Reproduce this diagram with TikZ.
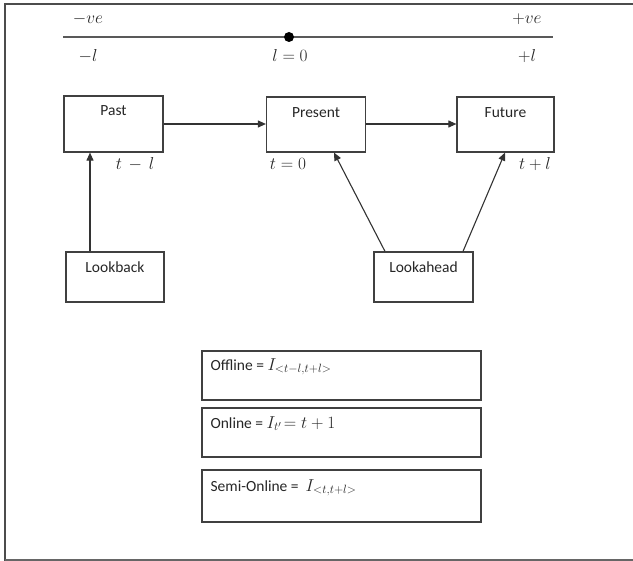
\documentclass[tikz,border=0pt]{standalone}
\usepackage{fontspec}
\setmainfont{Carlito}
\usetikzlibrary{arrows.meta}
\begin{document}
\begin{tikzpicture}[x=1pt,y=-1pt,
  box/.style={draw=black!75,line width=1.2pt,minimum width=#1,inner sep=0pt},
  box/.default=99pt,
  lbl/.style={anchor=north,inner sep=0pt,text=black!85,font=\fontsize{15.5}{18}\selectfont},
  mth/.style={inner sep=0pt,text=black!85,font=\fontsize{17.5}{20}\selectfont},
  conn/.style={draw=black!80,line width=1.1pt,-{Triangle[length=8pt,width=7pt]}},
  frame/.style={draw=black!70,line width=1.5pt}]
\useasboundingbox (0,0) rectangle (633,561);
% frame
\coordinate (f1) at (5,561);
\coordinate (f2) at (5,4);
\coordinate (f3) at (634,4);
\coordinate (f4) at (5,560);
\coordinate (f5) at (634,560);
\draw[frame] (f1) -- (f2) -- (f3);
\draw[frame,draw=black!60,line width=2pt] (f4) -- (f5);
% axis
\coordinate (aL) at (63,37);
\coordinate (aR) at (553,37);
\draw[draw=black!65,line width=1.1pt] (aL) -- (aR);
\node[circle,fill=black,inner sep=0pt,minimum size=10pt] (dot) at (289,37) {};
\node[mth] (mve) at (88,19) {$-ve$};
\node[mth] (pve) at (527,19) {$+ve$};
\node[mth] (ml) at (88,56) {$-l$};
\node[mth] (l0) at (290,56) {$l=0$};
\node[mth] (pl) at (527,56) {$+l$};
% boxes
\node[box,minimum height=56pt] (past) at (113.5,124) {};
\node[lbl] (pastT) at ([yshift=-10pt]past.north) {Past};
\node[box,minimum height=55pt] (present) at (316,124.5) {};
\node[lbl] (presentT) at ([yshift=-11pt]present.north) {Present};
\node[box,minimum width=97pt,minimum height=55pt] (future) at (505.5,124.5) {};
\node[lbl] (futureT) at ([yshift=-11pt]future.north) {Future};
\node[box,minimum width=98pt,minimum height=50pt] (lookback) at (115,277) {};
\node[lbl] (lookbackT) at ([yshift=-10pt]lookback.north) {Lookback};
\node[box,minimum width=99pt,minimum height=50pt] (lookahead) at (423.5,277) {};
\node[lbl] (lookaheadT) at ([yshift=-10pt]lookahead.north) {Lookahead};
% time labels
\node[mth] (tml) at (135,164) {$t\,-\,l$};
\node[mth] (t0) at (288,164) {$t=0$};
\node[mth] (tpl) at (535,164) {$t+l$};
% connectors
\draw[conn] (past.east |- 0,124) -- (present.west |- 0,124);
\draw[conn] (present.east |- 0,124) -- (future.west |- 0,124);
\draw[conn] (lookback.north -| 90,0) -- (past.south -| 90,0);
\draw[conn] (lookahead.north -| 385,0) -- (present.south -| 334,0);
\draw[conn] (lookahead.north -| 463,0) -- (future.south -| 505,0);
% mode boxes
\node[box,minimum width=279pt,minimum height=49pt] (offline) at (341.5,375.5) {};
\node[lbl,anchor=north west] (offlineT) at ([xshift=9pt,yshift=-8pt]offline.north west) {Offline = {\fontsize{17.5}{20}\selectfont$I_{<t-l,t+l>}$}};
\node[box,minimum width=279pt,minimum height=49pt] (online) at (341.5,432.5) {};
\node[lbl,anchor=north west] (onlineT) at ([xshift=9pt,yshift=-9pt]online.north west) {Online = {\fontsize{17.5}{20}\selectfont$I_{t'}\!= t+1$}};
\node[box,minimum width=279pt,minimum height=52pt] (semi) at (341.5,496) {};
\node[lbl,anchor=north west] (semiT) at ([xshift=9pt,yshift=-10pt]semi.north west) {Semi-Online = \ {\fontsize{17.5}{20}\selectfont$I_{<t,t+l>}$}};
\end{tikzpicture}
\end{document}
